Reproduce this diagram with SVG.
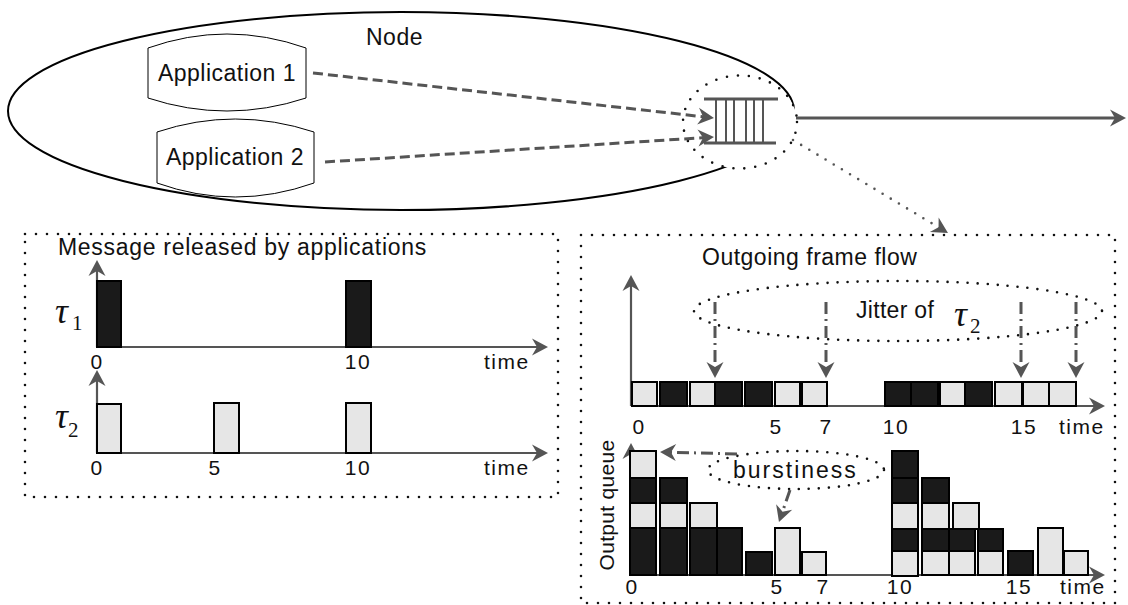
<svg xmlns="http://www.w3.org/2000/svg" width="1128" height="605" viewBox="0 0 1128 605">
<style>
.t{font-family:"Liberation Sans",Arial,sans-serif;font-size:23px;letter-spacing:0.5px;fill:#111}
.n{font-family:"Liberation Sans",Arial,sans-serif;font-size:21px;letter-spacing:1.5px;fill:#111}
.g{font-family:"Liberation Serif","Times New Roman",serif;fill:#111}
.tau{font-size:36px;font-style:italic}
.sub{font-size:21px}
.dot{fill:none;stroke:#111;stroke-width:2.6;stroke-dasharray:0 11;stroke-linecap:round}
.ax{stroke:#555;stroke-width:2.2;fill:none;marker-end:url(#ah)}
.dash{stroke:#555;stroke-width:3;fill:none;stroke-dasharray:10 5;marker-end:url(#ah)}
.dd{stroke:#555;stroke-width:3;fill:none;stroke-dasharray:12 5 2 5;marker-end:url(#ah)}
.k{fill:#1a1a1a;stroke:#000;stroke-width:2}
.l{fill:#e6e6e6;stroke:#000;stroke-width:2}
.app{fill:#fff;stroke:#000;stroke-width:1}
</style>
<defs>
<marker id="ah" viewBox="-18 -10 19 20" refX="-5" refY="0" markerWidth="19" markerHeight="20" markerUnits="userSpaceOnUse" orient="auto">
<path d="M0,0 L-16,-8.5 L-11,0 L-16,8.5 Z" fill="#555"/>
</marker>
</defs>

<g id="node">
<ellipse cx="401" cy="111" rx="393" ry="99" fill="none" stroke="#000" stroke-width="2"/>
<text class="t" x="366" y="45">Node</text>
</g>

<g id="app1">
<path class="app" d="M148,48 Q227,20 306,48 L306,98 Q227,124 148,98 Z"/>
<text class="t" x="227" y="81" text-anchor="middle">Application 1</text>
</g>

<g id="app2">
<path class="app" d="M157,132 Q235,106 314,132 L314,183 Q235,211 157,183 Z"/>
<text class="t" x="235" y="165" text-anchor="middle">Application 2</text>
</g>

<g id="queue">
<ellipse class="dot" cx="740" cy="122" rx="57" ry="46.5" style="fill:#fff"/>
<g stroke="#555" stroke-width="3">
<line x1="704" y1="99" x2="778" y2="99"/>
<line x1="704" y1="143" x2="776" y2="143"/>
</g>
<g stroke="#555" stroke-width="2">
<line x1="716" y1="99" x2="716" y2="143"/>
<line x1="726" y1="99" x2="726" y2="143"/>
<line x1="734" y1="99" x2="734" y2="143"/>
<line x1="746" y1="99" x2="746" y2="143"/>
<line x1="754" y1="99" x2="754" y2="143"/>
<line x1="763" y1="99" x2="763" y2="143"/>
</g>
</g>

<g id="connectors">
<line class="dash" x1="313" y1="73" x2="709" y2="117.4"/>
<line class="dash" x1="325" y1="162" x2="709" y2="137.3"/>
<line class="ax" x1="796" y1="118" x2="1121" y2="118" style="stroke-width:3"/>
<line x1="793" y1="140" x2="943.7" y2="230.4" stroke="#555" stroke-width="2.6" stroke-dasharray="0 9.5" stroke-linecap="round" marker-end="url(#ah)"/>
</g>

<g id="released">
<rect class="dot" x="25" y="234" width="533" height="263"/>
<text class="t" x="58" y="255" style="letter-spacing:0.7px">Message released by applications</text>
<line class="ax" x1="97" y1="347" x2="97" y2="265"/>
<line class="ax" x1="97" y1="347" x2="543" y2="347"/>
<rect class="k" x="97" y="281" width="24" height="66"/>
<rect class="k" x="346" y="281" width="25" height="66"/>
<text class="g tau" x="55" y="323">τ</text>
<text class="g sub" x="72" y="330">1</text>
<text class="n" x="97" y="369" text-anchor="middle">0</text>
<text class="n" x="358" y="369" text-anchor="middle">10</text>
<text class="n" x="484" y="369">time</text>

<line class="ax" x1="97" y1="453" x2="97" y2="375"/>
<line class="ax" x1="97" y1="453" x2="543" y2="453"/>
<rect class="l" x="97" y="404" width="24" height="49"/>
<rect class="l" x="214" y="403" width="25" height="50"/>
<rect class="l" x="346" y="403" width="25" height="50"/>
<text class="g tau" x="55" y="428">τ</text>
<text class="g sub" x="68" y="437">2</text>
<text class="n" x="97" y="475" text-anchor="middle">0</text>
<text class="n" x="215" y="475" text-anchor="middle">5</text>
<text class="n" x="358" y="475" text-anchor="middle">10</text>
<text class="n" x="484" y="475">time</text>
</g>

<g id="outgoing">
<rect class="dot" x="581" y="235" width="534" height="368"/>
<text class="t" x="702" y="265">Outgoing frame flow</text>
<line class="ax" x1="631" y1="406" x2="631" y2="280"/>
<line class="ax" x1="631" y1="406" x2="1100" y2="406"/>
<rect class="l" x="632" y="382" width="25" height="24"/>
<rect class="k" x="660" y="382" width="27" height="24"/>
<rect class="l" x="690" y="382" width="25" height="24"/>
<rect class="k" x="715" y="382" width="27" height="24"/>
<rect class="k" x="745" y="382" width="27" height="24"/>
<rect class="l" x="775" y="382" width="25" height="24"/>
<rect class="l" x="802" y="382" width="25" height="24"/>
<rect class="k" x="885" y="382" width="26" height="24"/>
<rect class="k" x="911" y="382" width="27" height="24"/>
<rect class="l" x="940" y="382" width="25" height="24"/>
<rect class="k" x="965" y="382" width="27" height="24"/>
<rect class="l" x="995" y="382" width="27" height="24"/>
<rect class="l" x="1023" y="382" width="26" height="24"/>
<rect class="l" x="1049" y="382" width="27" height="24"/>
<text class="n" x="639" y="434" text-anchor="middle">0</text>
<text class="n" x="776" y="434" text-anchor="middle">5</text>
<text class="n" x="826" y="434" text-anchor="middle">7</text>
<text class="n" x="896" y="434" text-anchor="middle">10</text>
<text class="n" x="1024" y="434" text-anchor="middle">15</text>
<text class="n" x="1059" y="434">time</text>
</g>

<g id="jitter">
<ellipse class="dot" cx="898" cy="311" rx="204" ry="30" style="stroke-dasharray:0 10"/>
<text class="t" x="856" y="318" style="letter-spacing:0.3px">Jitter of</text>
<text class="g tau" x="954" y="326">τ</text>
<text class="g sub" x="970" y="333">2</text>
<line class="dd" x1="715" y1="302" x2="715" y2="373"/>
<line class="dd" x1="826" y1="302" x2="826" y2="373"/>
<line class="dd" x1="1021" y1="302" x2="1021" y2="373"/>
<line class="dd" x1="1076" y1="302" x2="1076" y2="373"/>
</g>

<g id="queue-chart">
<text class="t" transform="translate(614,505) rotate(-90)" text-anchor="middle" style="font-size:21px;letter-spacing:0.3px">Output queue</text>
<line class="ax" x1="631" y1="575" x2="631" y2="448"/>
<line class="ax" x1="631" y1="575" x2="1100" y2="575"/>
<rect class="k" x="630" y="528" width="26" height="47"/>
<rect class="l" x="630" y="503" width="26" height="25"/>
<rect class="k" x="630" y="478" width="26" height="25"/>
<rect class="l" x="630" y="451" width="26" height="27"/>
<rect class="k" x="660" y="528" width="27" height="47"/>
<rect class="l" x="660" y="503" width="27" height="25"/>
<rect class="k" x="660" y="478" width="27" height="25"/>
<rect class="k" x="690" y="528" width="27" height="47"/>
<rect class="l" x="690" y="503" width="27" height="25"/>
<rect class="k" x="717" y="528" width="25" height="47"/>
<rect class="k" x="746" y="552" width="26" height="23"/>
<rect class="l" x="775" y="528" width="25" height="47"/>
<rect class="l" x="802" y="552" width="24" height="23"/>

<rect class="l" x="892" y="551" width="26" height="25"/>
<rect class="k" x="892" y="529" width="26" height="22"/>
<rect class="l" x="892" y="503" width="26" height="26"/>
<rect class="k" x="892" y="478" width="26" height="25"/>
<rect class="k" x="892" y="451" width="26" height="27"/>
<rect class="l" x="922" y="551" width="27" height="24"/>
<rect class="k" x="922" y="529" width="27" height="22"/>
<rect class="l" x="922" y="503" width="27" height="26"/>
<rect class="k" x="922" y="478" width="27" height="25"/>
<rect class="l" x="949" y="551" width="26" height="24"/>
<rect class="k" x="949" y="529" width="26" height="22"/>
<rect class="l" x="953" y="503" width="26" height="26"/>
<rect class="l" x="978" y="551" width="25" height="24"/>
<rect class="k" x="978" y="529" width="25" height="22"/>
<rect class="k" x="1008" y="551" width="25" height="24"/>
<rect class="l" x="1038" y="528" width="25" height="47"/>
<rect class="l" x="1064" y="551" width="24" height="24"/>
<text class="n" x="632" y="594" text-anchor="middle">0</text>
<text class="n" x="777" y="594" text-anchor="middle">5</text>
<text class="n" x="823" y="594" text-anchor="middle">7</text>
<text class="n" x="900" y="594" text-anchor="middle">10</text>
<text class="n" x="1019" y="594" text-anchor="middle">15</text>
<text class="n" x="1060" y="594">time</text>
</g>

<g id="burstiness">
<ellipse class="dot" cx="796" cy="470" rx="88" ry="19" style="stroke-dasharray:0 10"/>
<text class="t" x="733" y="478" style="letter-spacing:2px">burstiness</text>
<line class="dd" x1="737" y1="454" x2="665" y2="452.1"/>
<line class="dd" x1="790" y1="490" x2="780.6" y2="517.3"/>
</g>
</svg>
